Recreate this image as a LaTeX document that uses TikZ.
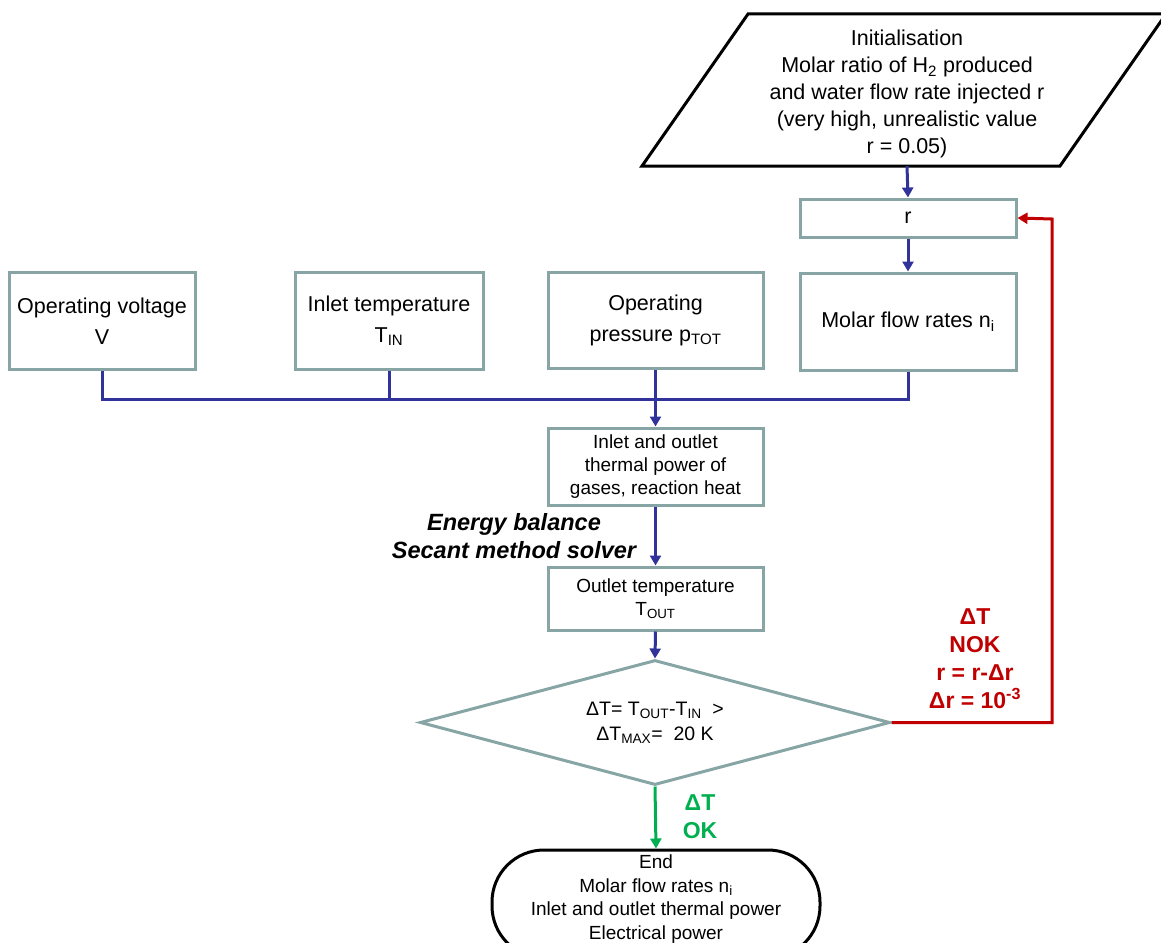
\documentclass[tikz,border=0pt]{standalone}
\usepackage{fontspec}
\setmainfont{Liberation Sans}
\usetikzlibrary{shapes.geometric,arrows.meta}
\definecolor{boxgray}{RGB}{135,165,165}
\definecolor{flowblue}{RGB}{50,50,155}
\definecolor{nokred}{RGB}{192,0,0}
\definecolor{okgreen}{RGB}{0,176,80}
\tikzset{
  gbox/.style={draw=boxgray, line width=3pt, fill=white, align=center, inner sep=2pt},
  bigtxt/.style={font=\fontsize{21.5}{31}\selectfont},
  smalltxt/.style={font=\fontsize{19}{23}\selectfont},
  flow/.style={draw=flowblue, line width=3pt},
  tip/.style={-{Triangle[length=10pt,width=11pt]}},
  flowarr/.style={flow, tip},
  lbl/.style={font=\bfseries\fontsize{23}{28}\selectfont, align=center},
}
\begin{document}
\begin{tikzpicture}[x=1pt,y=-1pt]
\useasboundingbox (0,0) rectangle (1161,942);
% initialisation parallelogram
\draw[line width=3pt, line join=miter] (642,166) -- (748,14) -- (1166,14) -- (1060,166) -- cycle;
\node[align=center, font=\fontsize{21.5}{26.8}\selectfont] (init) at (907,94)
  {Initialisation\\Molar ratio of H\textsubscript{2} produced\\and water flow rate injected r\\(very high, unrealistic value\\r = 0.05)};
\coordinate (initb) at (907,166);
% r box
\node[gbox, bigtxt, minimum width=216pt, minimum height=38pt] (rbox) at (908,218) {r};
% top row
\node[gbox, bigtxt, minimum width=186pt, minimum height=97pt] (volt) at (102,321) {Operating voltage\\V};
\node[gbox, bigtxt, minimum width=188pt, minimum height=97pt] (tin) at (389,321) {Inlet temperature\\T\textsubscript{IN}};
\node[gbox, bigtxt, minimum width=215pt, minimum height=96pt] (press) at (655.5,320) {Operating\\pressure p\textsubscript{TOT}};
\node[gbox, bigtxt, minimum width=216pt, minimum height=97pt] (molar) at (908,321.5) {Molar flow rates n\textsubscript{i}};
% middle boxes
\node[gbox, smalltxt, minimum width=215pt, minimum height=77pt] (heat) at (655.5,466.5) {Inlet and outlet\\thermal power of\\gases, reaction heat};
\node[gbox, smalltxt, minimum width=215pt, minimum height=63pt] (tout) at (655.5,598.5) {Outlet temperature\\T\textsubscript{OUT}};
\node[diamond, aspect=3.76, draw=boxgray, line width=3pt, fill=white, minimum width=470pt, minimum height=125pt, inner sep=0pt, align=center, font=\fontsize{19.5}{25}\selectfont] (dia) at (655,722.5)
  {ΔT= T\textsubscript{OUT}-T\textsubscript{IN} \ >\\ΔT\textsubscript{MAX}= \ 20 K};
% end
\node[draw, line width=3pt, fill=white, rounded corners=52pt, minimum width=328pt, minimum height=108pt, inner sep=0pt] (endn) at (656,904) {};
\node[align=center, font=\fontsize{19}{23.7}\selectfont] (endtxt) at (656,899)
  {End\\Molar flow rates n\textsubscript{i}\\Inlet and outlet thermal power\\Electrical power};
% labels
\node[font=\bfseries\itshape\fontsize{23.5}{28}\selectfont, align=center] (eb) at (514,536)
  {Energy balance\\Secant method solver};
\node[lbl, text=nokred] (nok) at (975,659) {ΔT\\NOK\\r = r-Δr\\Δr = 10\textsuperscript{-3}};
\node[lbl, text=okgreen] (ok) at (700,817) {ΔT\\OK};
% connectors
\coordinate (bus) at (656,399);
\coordinate (nokc) at (1052,219);
\draw[flowarr] (initb) -- (rbox.north);
\draw[flowarr] (rbox.south) -- (molar.north);
\draw[flow] (volt.south) |- (bus);
\draw[flow] (tin.south) |- (bus);
\draw[flow] (molar.south) |- (bus);
\draw[flowarr] (press.south) -- (heat.north);
\draw[flowarr] (heat.south) -- (tout.north);
\draw[flowarr] (tout.south) -- (dia.north);
\draw[draw=nokred, line width=3pt, tip] (dia.east) -| (nokc) -- (rbox.east);
\draw[draw=okgreen, line width=3pt, tip] (dia.south) -- (endn.north);
\end{tikzpicture}
\end{document}
